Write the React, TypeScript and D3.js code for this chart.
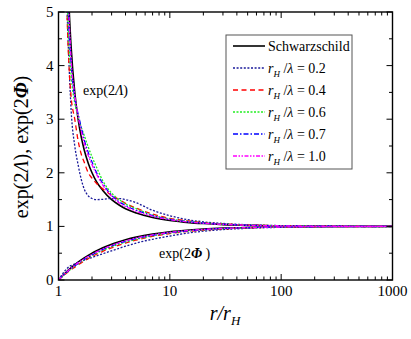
import React from "react";
import * as d3 from "d3";

// r / r_H sample points shared by all curves
const rValues = [1, 1.05, 1.1, 1.15, 1.2, 1.25, 1.3, 1.4, 1.5, 1.6, 1.7, 1.85, 2, 2.2, 2.5, 3, 3.5, 4, 5, 7, 10, 15, 20, 30, 50, 100, 200, 1000];

// exp(2Λ) for each series (null = diverges at horizon)
const lambdaSchw = [null, 21, 11, 7.67, 6, 5, 4.33, 3.5, 3.0, 2.67, 2.43, 2.18, 2.0, 1.83, 1.67, 1.5, 1.4, 1.33, 1.25, 1.167, 1.111, 1.071, 1.053, 1.034, 1.02, 1.01, 1.005, 1.001];
const lambda02 = [null, 20, 9, 6.5, 4.9, 3.9, 3.15, 2.5, 2.15, 1.88, 1.7, 1.57, 1.52, 1.5, 1.505, 1.52, 1.52, 1.5, 1.44, 1.3, 1.2, 1.12, 1.085, 1.055, 1.03, 1.015, 1.007, 1.001];
const lambda04 = [null, 20, 9.5, 6.6, 4.8, 3.9, 3.4, 3.0, 2.6, 2.35, 2.2, 2.0, 1.9, 1.8, 1.7, 1.58, 1.5, 1.43, 1.34, 1.23, 1.15, 1.1, 1.07, 1.045, 1.027, 1.013, 1.006, 1.001];
const lambda06 = [null, 20, 10, 7, 5.2, 4.3, 3.8, 3.3, 3.05, 2.85, 2.7, 2.48, 2.3, 2.1, 1.85, 1.62, 1.5, 1.42, 1.33, 1.21, 1.14, 1.09, 1.065, 1.042, 1.025, 1.012, 1.006, 1.001];
const lambda07 = [null, 21, 10.5, 7.3, 5.6, 4.6, 4.0, 3.4, 3.1, 2.85, 2.62, 2.38, 2.2, 2.0, 1.8, 1.58, 1.46, 1.39, 1.3, 1.2, 1.13, 1.085, 1.062, 1.04, 1.023, 1.011, 1.005, 1.001];
const lambda10 = [null, 21, 10.8, 7.5, 5.8, 4.8, 4.1, 3.45, 3.05, 2.78, 2.56, 2.32, 2.15, 1.97, 1.77, 1.56, 1.44, 1.37, 1.28, 1.19, 1.125, 1.08, 1.058, 1.038, 1.022, 1.011, 1.005, 1.001];

// exp(2Φ) for each series
const phiSchw = [0, 0.048, 0.091, 0.13, 0.167, 0.2, 0.231, 0.286, 0.333, 0.375, 0.412, 0.459, 0.5, 0.545, 0.6, 0.667, 0.714, 0.75, 0.8, 0.857, 0.9, 0.933, 0.95, 0.967, 0.98, 0.99, 0.995, 0.999];
const phi02 = [0, 0.07, 0.13, 0.18, 0.22, 0.25, 0.27, 0.3, 0.33, 0.35, 0.37, 0.4, 0.42, 0.45, 0.49, 0.545, 0.59, 0.63, 0.69, 0.76, 0.82, 0.88, 0.91, 0.94, 0.965, 0.983, 0.992, 0.998];
const phi04 = [0, 0.04, 0.075, 0.108, 0.14, 0.168, 0.195, 0.24, 0.285, 0.32, 0.355, 0.4, 0.44, 0.48, 0.535, 0.6, 0.65, 0.69, 0.745, 0.815, 0.865, 0.91, 0.93, 0.953, 0.972, 0.986, 0.993, 0.999];
const phi06 = [0, 0.042, 0.08, 0.115, 0.148, 0.178, 0.205, 0.255, 0.3, 0.34, 0.375, 0.42, 0.46, 0.5, 0.555, 0.62, 0.67, 0.705, 0.76, 0.825, 0.875, 0.915, 0.936, 0.957, 0.974, 0.987, 0.994, 0.999];
const phi07 = [0, 0.045, 0.085, 0.122, 0.155, 0.186, 0.215, 0.265, 0.31, 0.35, 0.385, 0.43, 0.47, 0.515, 0.57, 0.635, 0.685, 0.72, 0.775, 0.835, 0.882, 0.92, 0.94, 0.96, 0.976, 0.988, 0.994, 0.999];
const phi10 = [0, 0.047, 0.088, 0.126, 0.16, 0.192, 0.222, 0.275, 0.32, 0.36, 0.395, 0.44, 0.48, 0.525, 0.58, 0.645, 0.695, 0.73, 0.785, 0.843, 0.888, 0.924, 0.943, 0.962, 0.977, 0.989, 0.995, 0.999];

const legendLabels = ["Schwarzschild", "0.2", "0.4", "0.6", "0.7", "1.0"];
const xTicks = [1, 10, 100, 1000];
const yTicks = [0, 1, 2, 3, 4, 5];

const series = [
  { label: legendLabels[0], lambda: lambdaSchw, phi: phiSchw, color: "#000000", dash: "none", width: 1.6 },
  { label: legendLabels[1], lambda: lambda02, phi: phi02, color: "#1a1a9a", dash: "2,1.6", width: 1.3 },
  { label: legendLabels[2], lambda: lambda04, phi: phi04, color: "#ff0000", dash: "5,3.5", width: 1.3 },
  { label: legendLabels[3], lambda: lambda06, phi: phi06, color: "#22ee22", dash: "2,1.5", width: 1.3 },
  { label: legendLabels[4], lambda: lambda07, phi: phi07, color: "#0000ff", dash: "5,2,1.5,2", width: 1.3 },
  { label: legendLabels[5], lambda: lambda10, phi: phi10, color: "#ff00ff", dash: "4,1.5,1.5,1.5,1.5,1.5", width: 1.3 },
];

const W = 411;
const H = 339;
const margin = { left: 58.5, right: 392.5, top: 12, bottom: 280 };
const serif = "Liberation Serif, Times New Roman, serif";

export default function App() {
  const x = d3.scaleLog().domain([1, 1000]).range([margin.left, margin.right]);
  const y = d3.scaleLinear().domain([0, 5]).range([margin.bottom, margin.top]);

  const line = d3
    .line<[number, number | null]>()
    .defined((d) => d[1] !== null)
    .x((d) => x(d[0]))
    .y((d) => y(d[1] as number))
    .curve(d3.curveMonotoneX);

  // minor ticks on the log axis
  const xMinor: number[] = [];
  [1, 10, 100].forEach((dec) => {
    for (let k = 2; k <= 9; k++) xMinor.push(dec * k);
  });
  const yMinor = d3.range(0.5, 5, 1);

  const major = 6;
  const minor = 3.5;

  return (
    <svg width={W} height={H} style={{ position: "absolute", left: 0, top: 0, background: "#fff", fontFamily: serif }}>
      <defs>
        <clipPath id="plot-clip">
          <rect x={margin.left} y={margin.top} width={margin.right - margin.left} height={margin.bottom - margin.top} />
        </clipPath>
      </defs>

      {/* curves */}
      <g clipPath="url(#plot-clip)">
        {series.map((s, i) => (
          <g key={i}>
            <path
              d={line(rValues.map((r, j) => [r, s.lambda[j]]) as [number, number | null][]) || ""}
              fill="none"
              stroke={s.color}
              strokeWidth={s.width}
              strokeDasharray={s.dash}
            />
            <path
              d={line(rValues.map((r, j) => [r, s.phi[j]]) as [number, number | null][]) || ""}
              fill="none"
              stroke={s.color}
              strokeWidth={s.width}
              strokeDasharray={s.dash}
            />
          </g>
        ))}
      </g>

      {/* frame */}
      <rect
        x={margin.left}
        y={margin.top}
        width={margin.right - margin.left}
        height={margin.bottom - margin.top}
        fill="none"
        stroke="#000"
        strokeWidth={1.4}
      />

      {/* ticks on all four sides, pointing inward */}
      <g stroke="#000" strokeWidth={1}>
        {xTicks.map((t) => (
          <g key={"xm" + t}>
            <line x1={x(t)} x2={x(t)} y1={margin.bottom} y2={margin.bottom - major} />
            <line x1={x(t)} x2={x(t)} y1={margin.top} y2={margin.top + major} />
          </g>
        ))}
        {xMinor.map((t) => (
          <g key={"xn" + t}>
            <line x1={x(t)} x2={x(t)} y1={margin.bottom} y2={margin.bottom - minor} />
            <line x1={x(t)} x2={x(t)} y1={margin.top} y2={margin.top + minor} />
          </g>
        ))}
        {yTicks.map((t) => (
          <g key={"ym" + t}>
            <line x1={margin.left} x2={margin.left + major} y1={y(t)} y2={y(t)} />
            <line x1={margin.right} x2={margin.right - major} y1={y(t)} y2={y(t)} />
          </g>
        ))}
        {yMinor.map((t) => (
          <g key={"yn" + t}>
            <line x1={margin.left} x2={margin.left + minor} y1={y(t)} y2={y(t)} />
            <line x1={margin.right} x2={margin.right - minor} y1={y(t)} y2={y(t)} />
          </g>
        ))}
      </g>

      {/* tick labels */}
      <g fontSize={15} fill="#000" style={{ fontFamily: serif }}>
        {xTicks.map((t) => (
          <text key={"xl" + t} x={x(t)} y={margin.bottom + 16} textAnchor="middle">
            {t}
          </text>
        ))}
        {yTicks.map((t) => (
          <text key={"yl" + t} x={margin.left - 5} y={y(t) + 5} textAnchor="end">
            {t}
          </text>
        ))}
      </g>

      {/* axis titles */}
      <text x={225} y={320} textAnchor="middle" fontSize={20} style={{ fontFamily: serif }}>
        <tspan fontStyle="italic">r</tspan>
        <tspan fontStyle="italic">/r</tspan>
        <tspan fontStyle="italic" fontSize={13} dy={5}>H</tspan>
      </text>
      <text transform="translate(28,147) rotate(-90)" textAnchor="middle" fontSize={20} style={{ fontFamily: serif }}>
        exp(2<tspan fontStyle="italic">Λ</tspan>), exp(2<tspan fontStyle="italic" fontWeight="bold">Φ</tspan>)
      </text>

      {/* curve annotations */}
      <text x={83} y={95} fontSize={14} style={{ fontFamily: serif }}>
        exp(2<tspan fontStyle="italic">Λ</tspan>)
      </text>
      <text x={159} y={258} fontSize={14} style={{ fontFamily: serif }}>
        exp(2<tspan fontStyle="italic" fontWeight="bold">Φ</tspan> )
      </text>

      {/* legend */}
      <rect x={226} y={35} width={126} height={134} fill="#fff" stroke="#555" strokeWidth={1} />
      {series.map((s, i) => {
        const ly = 46 + i * 22;
        return (
          <g key={"lg" + i} style={{ fontFamily: serif }}>
            <line x1={233} x2={265} y1={ly} y2={ly} stroke={s.color} strokeWidth={s.width} strokeDasharray={s.dash} />
            {i === 0 ? (
              <text x={268} y={ly + 5} fontSize={14}>
                {s.label}
              </text>
            ) : (
              <text x={268} y={ly + 5} fontSize={14}>
                <tspan fontStyle="italic">r</tspan>
                <tspan fontStyle="italic" fontSize={9} dy={4}>H</tspan>
                <tspan dy={-4}> /</tspan>
                <tspan fontStyle="italic">λ</tspan>
                <tspan> = {s.label}</tspan>
              </text>
            )}
          </g>
        );
      })}
    </svg>
  );
}
